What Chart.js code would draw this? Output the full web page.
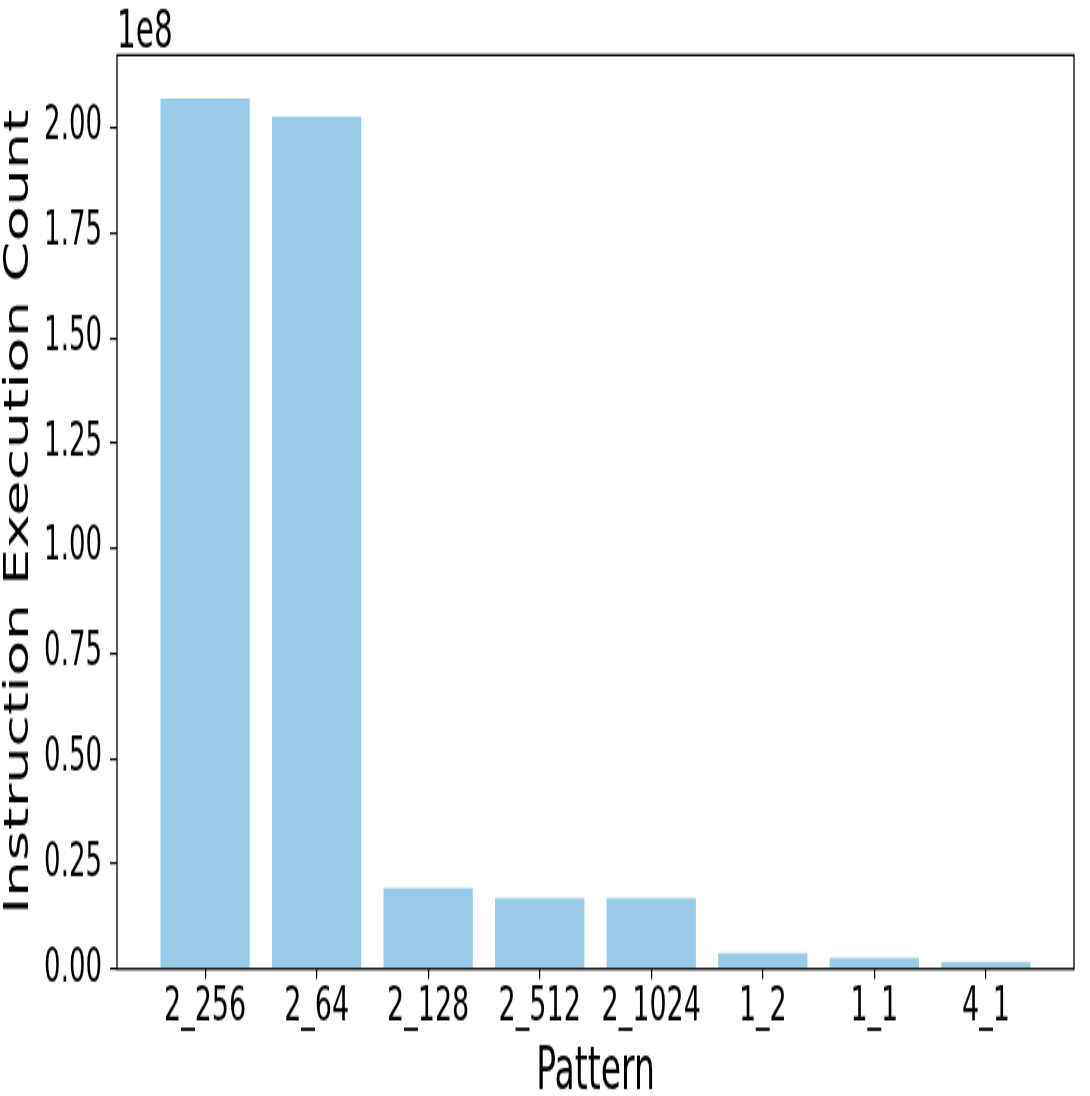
<!DOCTYPE html>
<html>
<head>
<meta charset="utf-8">
<script src="https://cdn.jsdelivr.net/npm/chart.js@4"></script>
<style>
  html, body { margin: 0; padding: 0; background: #fff; overflow: hidden; }
  /* the reference figure is stretched vertically, so draw short and stretch */
  #chart { display: block; width: 1090px; height: 1096px; }
</style>
</head>
<body>
<canvas id="chart" width="1090" height="623" style="width:1090px;height:1096px"></canvas>
<script>
// Pattern counts (units of 1e8)
const patterns = ['2_256', '2_64', '2_128', '2_512', '2_1024', '1_2', '1_1', '4_1'];
const counts = [2.069e8, 2.026e8, 0.193e8, 0.169e8, 0.169e8, 0.038e8, 0.026e8, 0.017e8];
const yTicks = [0, 0.25e8, 0.5e8, 0.75e8, 1.0e8, 1.25e8, 1.5e8, 1.75e8, 2.0e8];

const FONT = 'DejaVu Sans';

// frame around the plot and the "1e8" offset text
const framePlugin = {
  id: 'frame',
  afterDraw(chart) {
    const { ctx, chartArea } = chart;
    ctx.save();
    ctx.strokeStyle = '#000';
    ctx.lineWidth = 1.3;
    ctx.strokeRect(chartArea.left, chartArea.top, chartArea.right - chartArea.left, chartArea.bottom - chartArea.top);
    ctx.fillStyle = '#000';
    ctx.font = `29.5px "${FONT}"`;
    ctx.textAlign = 'left';
    ctx.textBaseline = 'alphabetic';
    ctx.fillText('1e8', chartArea.left, chartArea.top - 4);
    ctx.restore();
  }
};

const n = patterns.length;
const ctx = document.getElementById('chart').getContext('2d');

new Chart(ctx, {
  type: 'bar',
  data: {
    datasets: [{
      data: counts.map((c, i) => ({ x: i, y: c })),
      backgroundColor: 'rgb(151, 203, 231)',
      borderWidth: 0,
      categoryPercentage: 1.0,
      barPercentage: 0.8,
    }],
  },
  options: {
    responsive: false,
    devicePixelRatio: 1,
    animation: false,
    layout: { padding: { top: 31.3, right: 16, left: 0, bottom: 0 } },
    plugins: { legend: { display: false }, tooltip: { enabled: false } },
    scales: {
      x: {
        type: 'linear',
        offset: false,
        min: -0.4 - 0.05 * (n - 0.2),
        max: n - 0.6 + 0.05 * (n - 0.2),
        afterBuildTicks: (scale) => { scale.ticks = patterns.map((p, i) => ({ value: i })); },
        afterFit: (scale) => { scale.height = 72.2; },
        grid: { offset: false, drawOnChartArea: false, drawTicks: true, tickLength: 5.7, tickColor: '#000', lineWidth: 1.2 },
        border: { display: false },
        ticks: {
          autoSkip: false,
          maxRotation: 0,
          padding: 0,
          color: '#000',
          font: { family: FONT, size: 27 },
          callback: (v) => patterns[v],
        },
        title: {
          display: true,
          text: 'Pattern',
          color: '#000',
          font: { family: FONT, size: 33, lineHeight: 0.75 },
          padding: { top: 0, bottom: 0 },
        },
      },
      y: {
        min: 0,
        max: Math.max(...counts) * 1.05,
        afterBuildTicks: (scale) => { scale.ticks = yTicks.map(v => ({ value: v })); },
        afterFit: (scale) => { scale.width = 117; },
        grid: { drawOnChartArea: false, drawTicks: true, tickLength: 7, tickColor: '#000', lineWidth: 1.2 },
        border: { display: false },
        ticks: {
          padding: 8,
          color: '#000',
          font: { family: FONT, size: 26 },
          callback: (v) => (v / 1e8).toFixed(2),
        },
        title: {
          display: true,
          text: 'Instruction Execution Count',
          color: '#000',
          font: { family: FONT, size: 33, lineHeight: 1.2 },
          padding: { top: 0, bottom: 0 },
        },
      },
    },
  },
  plugins: [framePlugin],
});
</script>
</body>
</html>
